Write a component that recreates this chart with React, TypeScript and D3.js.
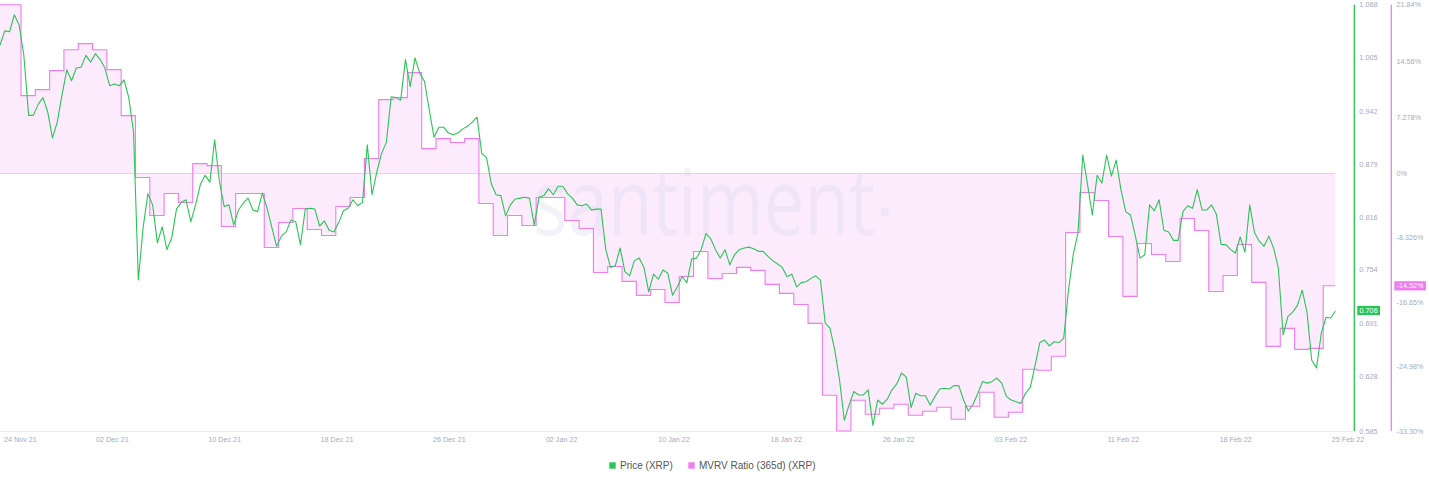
import * as d3 from 'd3';

// time axis
const START = Date.UTC(2021, 10, 24);
const DAY = 86400000;
const SPAN_DAYS = 94.2;
const PRICE_STEP = 8 * 3600000;
const MVRV_FIRST = Date.UTC(2021, 10, 23, 11, 13);

const dateLabels = [
  '24 Nov 21', '02 Dec 21', '10 Dec 21', '18 Dec 21', '26 Dec 21', '02 Jan 22', '10 Jan 22',
  '18 Jan 22', '26 Jan 22', '03 Feb 22', '11 Feb 22', '18 Feb 22', '25 Feb 22',
];

const priceTicks = [1.068, 1.005, 0.942, 0.879, 0.816, 0.754, 0.691, 0.628];
const priceBottomLabel = '0.585';
const mvrvTicks = [21.84, 14.56, 7.278, 0, -8.326, -16.65, -24.98, -33.3];
const mvrvTickLabels = ['21.84%', '14.56%', '7.278%', '0%', '-8.326%', '-16.65%', '-24.98%', '-33.30%'];

// Price (XRP), one value every 8 hours from 24 Nov 21
const priceXrp = [
  1.020, 1.037, 1.036, 1.056, 1.044, 1.008, 0.937, 0.937, 0.950, 0.958,
  0.941, 0.910, 0.929, 0.961, 0.991, 0.978, 0.993, 0.994, 1.008, 1.000,
  1.010, 1.003, 0.993, 0.972, 0.974, 0.972, 0.979, 0.958, 0.917, 0.742,
  0.804, 0.844, 0.831, 0.786, 0.805, 0.778, 0.792, 0.826, 0.834, 0.837,
  0.811, 0.831, 0.855, 0.866, 0.858, 0.908, 0.859, 0.829, 0.831, 0.807,
  0.825, 0.833, 0.839, 0.825, 0.823, 0.845, 0.827, 0.804, 0.782, 0.794,
  0.799, 0.813, 0.811, 0.784, 0.826, 0.827, 0.826, 0.806, 0.812, 0.801,
  0.799, 0.810, 0.824, 0.827, 0.837, 0.830, 0.834, 0.902, 0.843, 0.870,
  0.892, 0.905, 0.959, 0.958, 0.955, 1.003, 0.971, 1.005, 0.987, 0.977,
  0.943, 0.911, 0.923, 0.923, 0.916, 0.914, 0.916, 0.921, 0.924, 0.929,
  0.935, 0.892, 0.887, 0.856, 0.843, 0.842, 0.818, 0.831, 0.838, 0.839,
  0.840, 0.839, 0.807, 0.840, 0.842, 0.850, 0.843, 0.853, 0.853, 0.844,
  0.839, 0.831, 0.830, 0.832, 0.825, 0.826, 0.826, 0.778, 0.757, 0.759,
  0.780, 0.752, 0.747, 0.765, 0.768, 0.757, 0.728, 0.749, 0.743, 0.754,
  0.750, 0.724, 0.734, 0.746, 0.739, 0.767, 0.768, 0.778, 0.797, 0.791,
  0.778, 0.768, 0.778, 0.760, 0.772, 0.778, 0.780, 0.781, 0.779, 0.776,
  0.776, 0.770, 0.765, 0.761, 0.757, 0.746, 0.749, 0.734, 0.739, 0.740,
  0.744, 0.747, 0.742, 0.691, 0.685, 0.659, 0.624, 0.576, 0.594, 0.610,
  0.606, 0.606, 0.612, 0.570, 0.600, 0.595, 0.601, 0.612, 0.619, 0.632,
  0.627, 0.591, 0.608, 0.605, 0.605, 0.594, 0.604, 0.613, 0.614, 0.613,
  0.617, 0.617, 0.600, 0.587, 0.595, 0.608, 0.622, 0.620, 0.622, 0.626,
  0.620, 0.604, 0.600, 0.598, 0.596, 0.608, 0.615, 0.641, 0.668, 0.671,
  0.664, 0.669, 0.668, 0.673, 0.730, 0.772, 0.798, 0.890, 0.855, 0.819,
  0.866, 0.857, 0.890, 0.865, 0.884, 0.849, 0.823, 0.819, 0.795, 0.768,
  0.772, 0.831, 0.824, 0.837, 0.801, 0.799, 0.789, 0.789, 0.823, 0.830,
  0.827, 0.849, 0.825, 0.825, 0.831, 0.820, 0.784, 0.784, 0.778, 0.774,
  0.793, 0.775, 0.831, 0.798, 0.788, 0.782, 0.794, 0.780, 0.756, 0.677,
  0.699, 0.704, 0.712, 0.730, 0.704, 0.647, 0.638, 0.679, 0.698, 0.697, 0.706,
];

// MVRV Ratio (365d), %, daily
const mvrv365 = [
  21.84, 21.84, 10.08, 10.85, 13.31, 16.02, 16.8, 16.02, 13.44, 7.49,
  -0.52, -5.43, -2.58, -3.75, 1.29, 1.03, -6.85, -2.58, -2.58, -9.56,
  -6.33, -4.52, -7.24, -8.01, -4.26, -3.1, 1.94, 9.56, 9.82, 13.05,
  3.23, 4.52, 4.01, 4.52, -3.88, -8.01, -5.43, -6.72, -3.1, -3.1,
  -6.07, -7.11, -12.79, -12.02, -13.95, -15.76, -14.99, -16.67, -13.31, -10.08,
  -13.57, -12.92, -12.14, -12.53, -14.34, -15.5, -16.93, -19.38, -28.68, -33.3,
  -29.33, -31.14, -30.36, -29.84, -31.27, -30.75, -30.23, -31.78, -30.1, -28.29,
  -31.52, -30.88, -25.32, -25.45, -23.64, -7.62, -2.45, -3.49, -8.14, -15.89,
  -9.04, -10.47, -11.37, -5.81, -7.36, -15.25, -13.18, -9.17, -14.08, -22.35,
  -20.03, -22.74, -22.61, -14.52,
];

const GREEN = '#2bc456';
const PINK = '#f07cf0';
const FILL = '#fcebfc';
const TICK = '#a3abc3';
const FONT = '"Liberation Sans", Arial, sans-serif';

type Pt = { t: Date; v: number };

export default function App() {
  const top = 4.7;
  const bottom = 431;
  const x = d3
    .scaleTime()
    .domain([new Date(START), new Date(START + SPAN_DAYS * DAY)])
    .range([0, 1348]);
  const yPrice = d3.scaleLinear().domain([0.5633, 1.068]).range([bottom, top]);
  const yMvrv = d3.scaleLinear().domain([-33.3, 21.84]).range([bottom, top]);

  const priceData: Pt[] = priceXrp.map((v, i) => ({ t: new Date(START + i * PRICE_STEP), v }));
  const lastT = priceData[priceData.length - 1].t;
  const mvrvData: Pt[] = mvrv365.map((v, i) => ({ t: new Date(MVRV_FIRST + i * DAY), v }));
  mvrvData.push({ t: lastT, v: mvrv365[mvrv365.length - 1] });
  const xEnd = x(lastT);

  const area = d3
    .area<Pt>()
    .x((d) => x(d.t))
    .y0(yMvrv(0))
    .y1((d) => yMvrv(d.v))
    .curve(d3.curveStepAfter);
  const mvrvLine = d3
    .line<Pt>()
    .x((d) => x(d.t))
    .y((d) => yMvrv(d.v))
    .curve(d3.curveStepAfter);
  const priceLine = d3
    .line<Pt>()
    .x((d) => x(d.t))
    .y((d) => yPrice(d.v));

  const tickDates = dateLabels.map((_, i) => new Date(START + (i * SPAN_DAYS * DAY) / 12));

  const priceAxisX = 1354.3;
  const mvrvAxisX = 1391.3;
  const lastPrice = priceXrp[priceXrp.length - 1];
  const lastMvrv = mvrv365[mvrv365.length - 1];

  return (
    <svg
      width={1429}
      height={484}
      style={{ position: 'absolute', left: 0, top: 0, background: '#fff' }}
      fontFamily={FONT}
    >
      <defs>
        <clipPath id="plot-clip">
          <rect x={0} y={0} width={xEnd} height={bottom + 1} />
        </clipPath>
      </defs>

      {/* MVRV fill and baseline */}
      <g clipPath="url(#plot-clip)">
        <path d={area(mvrvData) ?? ''} fill={FILL} />
        <line x1={0} x2={xEnd} y1={yMvrv(0)} y2={yMvrv(0)} stroke="#f7c3f7" strokeWidth={1} />
      </g>

      {/* watermark */}
      <g opacity={0.28} fill="#d3d7ee">
        <text
          x={533}
          y={235}
          fontSize={92}
          fontFamily='"Open Sans", sans-serif'
          textLength={342}
          lengthAdjust="spacingAndGlyphs"
        >
          santiment
        </text>
        <circle cx={885} cy={212} r={4.5} />
      </g>

      {/* bottom axis line */}
      <line x1={0} x2={1352} y1={431.5} y2={431.5} stroke="#ececec" strokeWidth={1} />

      <g clipPath="url(#plot-clip)">
        <path d={mvrvLine(mvrvData) ?? ''} fill="none" stroke={PINK} strokeWidth={1.1} />
        <path d={priceLine(priceData) ?? ''} fill="none" stroke={GREEN} strokeWidth={1.1} strokeLinejoin="round" />
      </g>

      {/* x axis labels */}
      <g fontSize={7.2} fill={TICK}>
        {tickDates.map((d, i) => (
          <text
            key={dateLabels[i]}
            x={i === 0 ? 4 : x(d)}
            y={441.5}
            textAnchor={i === 0 ? 'start' : 'middle'}
          >
            {dateLabels[i]}
          </text>
        ))}
      </g>

      {/* price axis */}
      <line x1={priceAxisX} x2={priceAxisX} y1={top} y2={bottom} stroke={GREEN} strokeWidth={1.3} />
      <g fontSize={7.3} fill={TICK}>
        {priceTicks.map((v) => (
          <text key={v} x={1359.3} y={yPrice(v)} dy="0.35em">
            {v.toFixed(3)}
          </text>
        ))}
        <text x={1359.3} y={bottom} dy="0.35em">
          {priceBottomLabel}
        </text>
      </g>
      <rect x={1357.3} y={yPrice(lastPrice) - 4.6} width={22.7} height={9.2} fill={GREEN} />
      <text
        x={1368.6}
        y={yPrice(lastPrice)}
        dy="0.35em"
        fontSize={7.3}
        fill="#fff"
        textAnchor="middle"
      >
        {lastPrice.toFixed(3)}
      </text>

      {/* mvrv axis */}
      <line x1={mvrvAxisX} x2={mvrvAxisX} y1={top} y2={bottom} stroke={PINK} strokeWidth={1.3} />
      <g fontSize={7.2} fill={TICK}>
        {mvrvTicks.map((v, i) => (
          <text key={v} x={1396.6} y={yMvrv(v)} dy="0.35em">
            {mvrvTickLabels[i]}
          </text>
        ))}
      </g>
      <rect x={1394.3} y={yMvrv(lastMvrv) - 4.6} width={31.7} height={9.2} fill={PINK} />
      <text
        x={1410.1}
        y={yMvrv(lastMvrv)}
        dy="0.35em"
        fontSize={7.2}
        fill="#fff"
        textAnchor="middle"
      >
        {lastMvrv.toFixed(2)}%
      </text>

      {/* legend */}
      <g fontSize={10} fill="#555">
        <rect x={609.3} y={462.3} width={6.4} height={6.4} fill={GREEN} />
        <text x={620} y={468.6}>
          Price (XRP)
        </text>
        <rect x={688.3} y={462.3} width={6.4} height={6.4} fill={PINK} />
        <text x={699} y={468.6}>
          MVRV Ratio (365d) (XRP)
        </text>
      </g>
    </svg>
  );
}
